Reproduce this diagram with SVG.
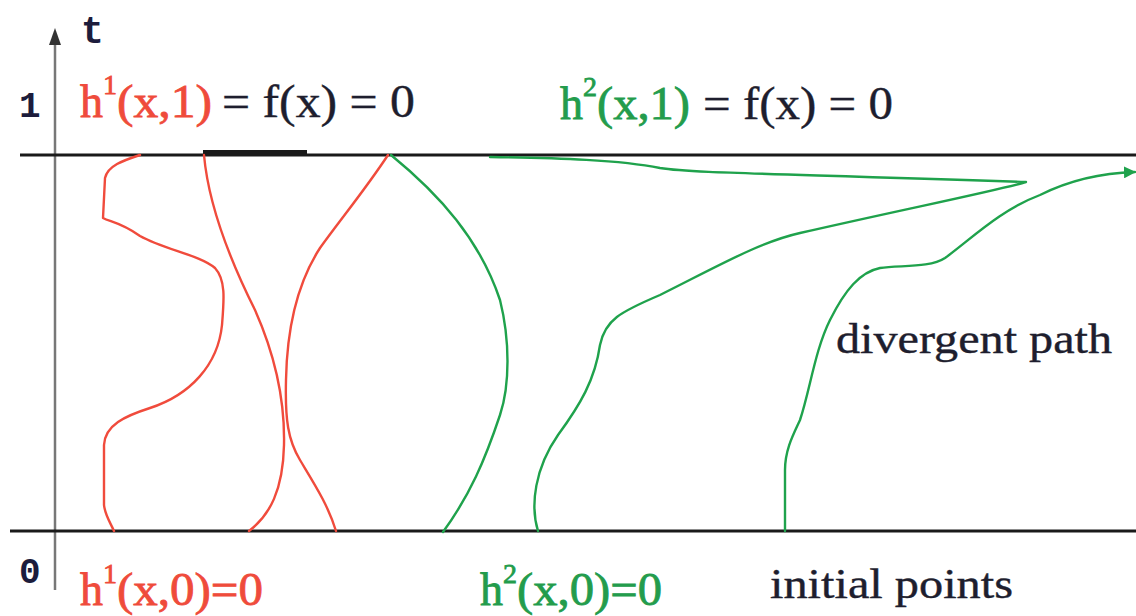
<svg xmlns="http://www.w3.org/2000/svg" width="1136" height="616" viewBox="0 0 1136 616">
<defs>
<style>
.ax{stroke:#1a1a1a;stroke-width:3;fill:none}
.red{stroke:#f04b3c;stroke-width:2.4;fill:none;stroke-linejoin:round;stroke-linecap:round}
.grn{stroke:#1fa24c;stroke-width:2.4;fill:none;stroke-linejoin:round;stroke-linecap:round}
.serif{font-family:"Liberation Serif","Times New Roman",serif}
.mono{font-family:"Liberation Mono","Courier New",monospace;fill:#1c1c3c;font-weight:bold}
.rt{fill:#ef4b3b;stroke:#ef4b3b;stroke-width:0.8}
.gt{fill:#239c4c;stroke:#239c4c;stroke-width:0.8}
.bt{fill:#1e1e2e;stroke:#1e1e2e;stroke-width:0.4}
</style>
<marker id="arr" viewBox="0 0 12 12" refX="11" refY="6" markerWidth="12" markerHeight="12" markerUnits="userSpaceOnUse" orient="auto">
<path d="M0,0 L12,6 L0,12 Z" fill="#1fa24c"/>
</marker>
</defs>

<g id="axes">
<line x1="55" y1="590" x2="55" y2="44" stroke="#777" stroke-width="2.5"/>
<path d="M55,28 L61,45 L49,45 Z" fill="#333"/>
<line class="ax" x1="20" y1="155" x2="1136" y2="155"/>
<line class="ax" x1="10" y1="531" x2="1136" y2="531"/>
<line x1="203" y1="153" x2="307" y2="153" stroke="#1a1a1a" stroke-width="6"/>
</g>

<g id="connectors">
<path id="red1" class="red" d="M140,155 C125,160 108,165 105,178 L103,218 C110,222 120,222 140,236 C165,250 200,255 215,268 C226,280 224,300 222,325 C218,365 190,395 150,408 C125,416 105,425 104,445 L104,505 C105,515 110,522 114,531"/>
<path id="red2" class="red" d="M204,155 C208,200 225,250 255,310 C275,355 285,400 284,445 C283,490 270,515 249,531"/>
<path id="red3" class="red" d="M388,155 C365,190 340,220 320,248 C298,282 287,325 286,380 C285,420 288,440 300,460 C315,485 328,505 336,531"/>
<path id="grn1" class="grn" d="M391,155 C440,195 480,240 500,300 C510,340 510,385 500,415 C485,460 470,495 443,532"/>
<path id="grn2" class="grn" d="M490,157 C560,158 620,160 660,168 C690,173 760,173 1026,182 C1000,190 900,210 800,233 C760,242 720,265 660,295 C620,312 605,320 600,345 C595,380 580,405 558,435 C535,468 530,505 538,531"/>
<path id="grn3" class="grn" marker-end="url(#arr)" d="M785,531 L785,470 C785,450 793,435 800,420 C810,390 815,350 830,320 C845,290 860,272 880,268 C900,265 930,268 945,258 C970,240 1000,210 1040,195 C1070,180 1100,173 1135,172"/>
</g>

<g id="label-t"><text class="mono" x="81" y="43" font-size="38">t</text></g>
<g id="label-1"><text class="mono" x="19" y="117" font-size="36">1</text></g>
<g id="label-0"><text class="mono" x="19" y="583" font-size="36">0</text></g>

<g id="label-h1-top" class="serif" font-size="46">
<text class="rt" x="80" y="117">h</text>
<text class="rt" x="103" y="94" font-size="28">1</text>
<text class="rt" x="117" y="117" textLength="95" lengthAdjust="spacingAndGlyphs">(x,1)</text>
<text class="bt" x="222" y="117" textLength="193" lengthAdjust="spacingAndGlyphs">= f(x) = 0</text>
</g>

<g id="label-h2-top" class="serif" font-size="46">
<text class="gt" x="560" y="119">h</text>
<text class="gt" x="583" y="96" font-size="28">2</text>
<text class="gt" x="597" y="119" textLength="93" lengthAdjust="spacingAndGlyphs">(x,1)</text>
<text class="bt" x="703" y="119" textLength="190" lengthAdjust="spacingAndGlyphs">= f(x) = 0</text>
</g>

<g id="label-h1-bottom" class="serif" font-size="46">
<text class="rt" x="80" y="605">h</text>
<text class="rt" x="103" y="583" font-size="28">1</text>
<text class="rt" x="117" y="605" textLength="146" lengthAdjust="spacingAndGlyphs">(x,0)=0</text>
</g>

<g id="label-h2-bottom" class="serif" font-size="46">
<text class="gt" x="480" y="605">h</text>
<text class="gt" x="503" y="583" font-size="28">2</text>
<text class="gt" x="517" y="605" textLength="145" lengthAdjust="spacingAndGlyphs">(x,0)=0</text>
</g>

<g id="label-divergent"><text class="serif bt" x="836" y="353" font-size="42" textLength="276" lengthAdjust="spacingAndGlyphs">divergent path</text></g>
<g id="label-initial"><text class="serif bt" x="770" y="598" font-size="42" textLength="243" lengthAdjust="spacingAndGlyphs">initial points</text></g>
</svg>
